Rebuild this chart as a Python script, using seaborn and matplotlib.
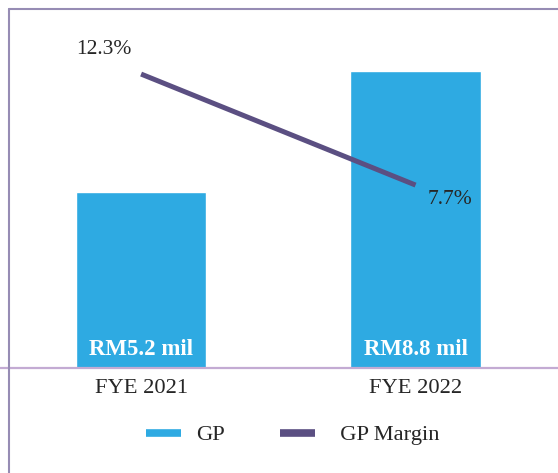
import numpy as np
import pandas as pd
import matplotlib
matplotlib.use("Agg")
import matplotlib.pyplot as plt
from matplotlib.lines import Line2D
import seaborn as sns

# data
years = ["FYE 2021", "FYE 2022"]
gp = [5.2, 8.8]            # RM mil
gp_margin = [12.3, 7.7]    # %
gp_labels = ["RM5.2 mil", "RM8.8 mil"]

bar_color = "#2EAAE2"
line_color = "#5B4F82"

sns.set_style("white")
plt.rcParams["font.family"] = ["Liberation Serif", "DejaVu Serif"]

df = pd.DataFrame({"year": years, "gp": gp, "margin": gp_margin})

fig = plt.figure(figsize=(5.58, 4.73), dpi=100)
ax = fig.add_axes([0, 105 / 473, 1, 348 / 473])

sns.barplot(data=df, x="year", y="gp", color=bar_color, saturation=1,
            width=0.474, ax=ax)
ax.set_xlim(-0.514, 1.519)
ax.set_ylim(0, 10.31)
ax.set_xlabel("")
ax.set_ylabel("")
ax.set_yticks([])
ax.tick_params(axis="x", length=0, labelsize=16.2, pad=8)
for s in ["top", "left", "right"]:
    ax.spines[s].set_visible(False)
ax.spines["bottom"].set_color("#C3ABD3")
ax.spines["bottom"].set_linewidth(1.6)

# bar labels inside bars
for i, lab in enumerate(gp_labels):
    ax.text(i, 0.55, lab, ha="center", va="center", color="white",
            fontsize=16.5, fontweight="bold")

# margin line on a twin axis
ax2 = ax.twinx()
sns.lineplot(x=np.arange(len(years)), y=gp_margin, color=line_color,
             linewidth=3.6, solid_capstyle="butt", ax=ax2)
ax2.set_ylim(0.12, 14.54)
ax2.set_yticks([])
for s in ax2.spines.values():
    s.set_visible(False)
ax2.annotate(f"{gp_margin[0]}%", (0, gp_margin[0]), xytext=(-27, 18),
             textcoords="offset points", ha="center", va="center", fontsize=15.5)
ax2.annotate(f"{gp_margin[1]}%", (1, gp_margin[1]), xytext=(25, -10.5),
             textcoords="offset points", ha="center", va="center", fontsize=15.5)

# legend
handles = [Line2D([], [], color=bar_color, linewidth=5.5, solid_capstyle="butt"),
           Line2D([], [], color=line_color, linewidth=5.5, solid_capstyle="butt")]
fig.legend(handles, ["GP", "  GP Margin"], loc="center", ncol=2,
           bbox_to_anchor=(0.525, 1 - 435 / 473), frameon=False,
           fontsize=16.2, handlelength=1.55, columnspacing=2.45, handletextpad=0.65)

# frame on top and left
fig.add_artist(Line2D([9 / 558, 9 / 558], [0, 1 - 9 / 473], color="#968CB4",
                      linewidth=1.5, transform=fig.transFigure))
fig.add_artist(Line2D([9 / 558, 1], [1 - 9 / 473, 1 - 9 / 473], color="#968CB4",
                      linewidth=1.5, transform=fig.transFigure))

fig.savefig("out.png", dpi=100)
